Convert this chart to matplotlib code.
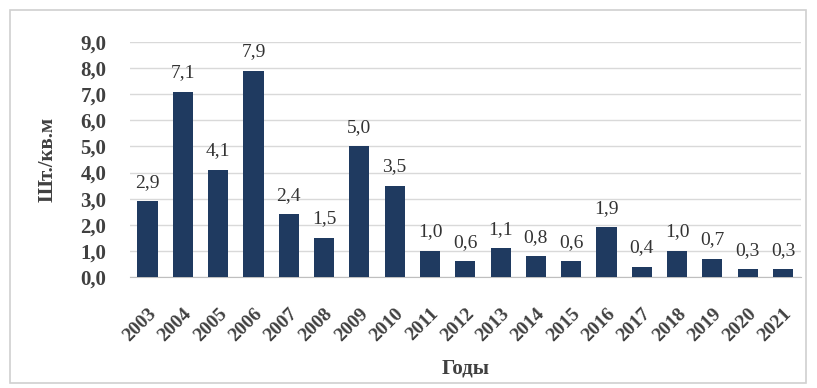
import numpy as np
import matplotlib.pyplot as plt
from matplotlib.patches import Rectangle

years = ['2003', '2004', '2005', '2006', '2007', '2008', '2009', '2010', '2011', '2012',
         '2013', '2014', '2015', '2016', '2017', '2018', '2019', '2020', '2021']
values = [2.9, 7.1, 4.1, 7.9, 2.4, 1.5, 5.0, 3.5, 1.0, 0.6,
          1.1, 0.8, 0.6, 1.9, 0.4, 1.0, 0.7, 0.3, 0.3]
yticks = np.arange(0, 9.5, 1.0)

plt.rcParams['font.family'] = ['Liberation Serif', 'DejaVu Serif']

fig = plt.figure(figsize=(8.17, 3.88), dpi=100)
ax = fig.add_axes([0.159, 0.286, 0.821, 0.606])

# outer chart border
fig.patches.append(Rectangle((0.012, 0.013), 0.975, 0.962, transform=fig.transFigure,
                             fill=False, edgecolor='#d0d0d0', linewidth=1.2))

x = np.arange(len(years))
ax.bar(x, values, width=0.57, color='#1f3a60', zorder=3)

for xi, v in zip(x, values):
    ax.text(xi, v + 0.4, f'{v:.1f}'.replace('.', ','), ha='center', va='bottom',
            fontsize=14, color='#333333')

ax.set_xlim(-0.5, len(years) - 0.5)
ax.set_ylim(0, 9.0)
ax.set_yticks(yticks)
ax.set_yticklabels([f'{t:.1f}'.replace('.', ',') for t in yticks],
                   fontsize=15, fontweight='bold', color='#404040')
ax.set_xticks(x)
ax.set_xticklabels(years, rotation=45, ha='right', rotation_mode='anchor',
                   fontsize=14, fontweight='bold', color='#404040')
ax.tick_params(axis='y', length=0, pad=17)
ax.tick_params(axis='x', length=0, pad=20)

ax.grid(axis='y', color='#d9d9d9', linewidth=1, zorder=0)
for s in ['top', 'right', 'left']:
    ax.spines[s].set_visible(False)
ax.spines['bottom'].set_color('#bfbfbf')

ax.set_xlabel('Годы', fontsize=15, fontweight='bold', color='#404040', labelpad=10)
ax.set_ylabel('Шт./кв.м', fontsize=15, fontweight='bold', color='#404040', labelpad=16)

fig.savefig('out.png', dpi=100)
